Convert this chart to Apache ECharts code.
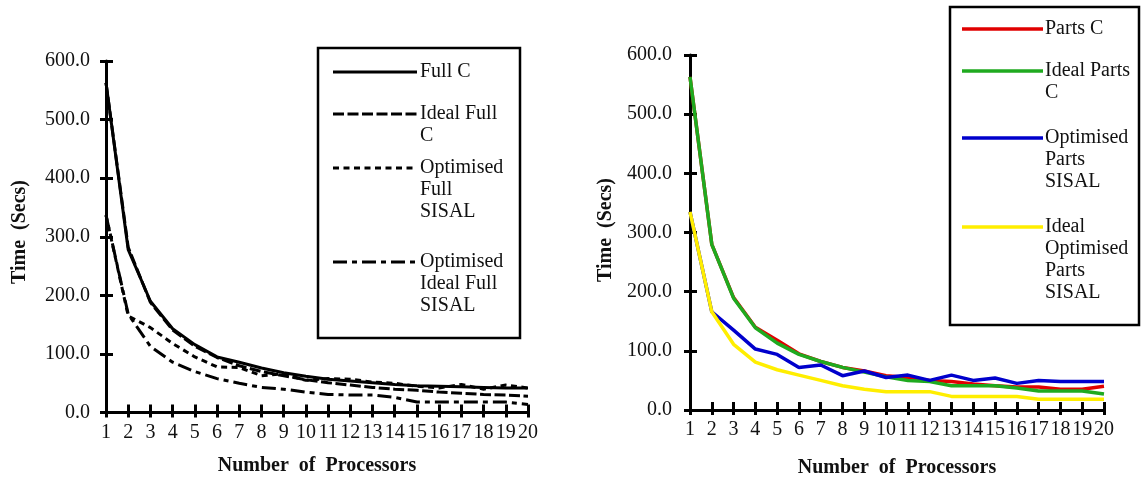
<!DOCTYPE html>
<html>
<head>
<meta charset="utf-8">
<script src="https://cdn.jsdelivr.net/npm/echarts@6/dist/echarts.min.js"></script>
<style>
html, body { margin: 0; padding: 0; background: #fff; }
#chart { width: 1141px; height: 481px; }
</style>
</head>
<body>
<div id="chart"></div>
<script>
// Processor counts along the x axis
const processors = ['1','2','3','4','5','6','7','8','9','10','11','12','13','14','15','16','17','18','19','20'];

// Left panel: full C and SISAL timings (seconds)
const fullC            = [563, 278, 190, 143, 116, 95, 86, 76, 68, 62, 57, 54, 51, 48, 46, 45, 44, 43, 42, 42];
const idealFullC       = [563, 282, 188, 141, 113, 94, 80, 70, 63, 56, 51, 47, 43, 40, 38, 35, 33, 31, 30, 28];
const optFullSisal     = [337, 165, 145, 118, 95, 78, 77, 63, 66, 55, 58, 57, 52, 50, 45, 42, 48, 40, 47, 42];
const optIdealFullSisal= [337, 168, 113, 86, 70, 58, 50, 43, 40, 35, 31, 30, 30, 26, 18, 18, 18, 18, 18, 14];

// Right panel: parts C and SISAL timings (seconds)
const partsC             = [563, 280, 190, 140, 118, 95, 82, 72, 66, 58, 55, 50, 48, 44, 41, 39, 39, 35, 35, 40];
const idealPartsC        = [563, 280, 189, 139, 113, 94, 82, 72, 64, 56, 50, 48, 41, 41, 41, 37, 32, 32, 32, 27];
const optPartsSisal      = [335, 166, 135, 103, 94, 72, 76, 58, 66, 55, 59, 50, 59, 50, 54, 45, 50, 48, 48, 48];
const idealOptPartsSisal = [335, 166, 111, 81, 68, 59, 50, 41, 35, 31, 31, 31, 23, 23, 23, 23, 18, 18, 18, 18];

// Series names as shown in the legends
const leftNames  = ['Full C', 'Ideal Full\nC', 'Optimised\nFull\nSISAL', 'Optimised\nIdeal Full\nSISAL'];
const rightNames = ['Parts C', 'Ideal Parts\nC', 'Optimised\nParts\nSISAL', 'Ideal\nOptimised\nParts\nSISAL'];

const FONT = '"Liberation Serif", "Times New Roman", serif';

const leftStyles = [
  { color: '#000', width: 3, type: 'solid' },
  { color: '#000', width: 3, type: [11, 3.5] },
  { color: '#000', width: 3, type: [6, 4.5] },
  { color: '#000', width: 3, type: [14, 5, 5, 5] }
];
const rightStyles = [
  { color: '#e00000', width: 3.5, type: 'solid' },
  { color: '#1faa1f', width: 3.5, type: 'solid' },
  { color: '#0000cc', width: 3.5, type: 'solid' },
  { color: '#ffee00', width: 3.5, type: 'solid' }
];

const leftData = [fullC, idealFullC, optFullSisal, optIdealFullSisal];
const rightData = [partsC, idealPartsC, optPartsSisal, idealOptPartsSisal];

const grids = [
  { left: 106, top: 61, width: 422, height: 351.6 },
  { left: 690, top: 55, width: 414, height: 355 }
];

function xAxes(gridIndex) {
  return [
    {
      type: 'category', gridIndex, data: processors, boundaryGap: false,
      axisLine: { lineStyle: { color: '#000', width: 3 } },
      axisTick: { show: true, length: 5, interval: 0, lineStyle: { color: '#000', width: 3 } },
      axisLabel: { interval: 0, margin: 10, color: '#111', fontFamily: FONT, fontSize: 20 },
      splitLine: { show: false }
    },
    {
      type: 'category', gridIndex, data: processors, boundaryGap: false, position: 'bottom',
      axisLine: { show: false },
      axisTick: { show: true, inside: true, length: 8, interval: 0, lineStyle: { color: '#000', width: 3 } },
      axisLabel: { show: false },
      splitLine: { show: false }
    }
  ];
}

function yAxes(gridIndex, margin) {
  return [
    {
      type: 'value', gridIndex, min: 0, max: 600, interval: 100,
      axisLine: { show: true, lineStyle: { color: '#000', width: 3 } },
      axisTick: { show: true, length: 6, lineStyle: { color: '#000', width: 3 } },
      axisLabel: { margin, color: '#111', fontFamily: FONT, fontSize: 20, formatter: v => v.toFixed(1) },
      splitLine: { show: false }
    },
    {
      type: 'value', gridIndex, min: 0, max: 600, interval: 100, position: 'left',
      axisLine: { show: false },
      axisTick: { show: true, inside: true, length: 7, lineStyle: { color: '#000', width: 3 } },
      axisLabel: { show: false },
      splitLine: { show: false }
    }
  ];
}

function makeSeries(names, data, styles, axisIndex) {
  return names.map((n, i) => ({
    name: n.replace(/\n/g, ' '),
    type: 'line',
    xAxisIndex: axisIndex,
    yAxisIndex: axisIndex,
    data: data[i],
    symbol: 'none',
    smooth: false,
    animation: false,
    lineStyle: { color: styles[i].color, width: styles[i].width, type: styles[i].type, cap: 'butt' },
    z: 3 + i
  }));
}

// Legend boxes drawn as graphics: a swatch line beside the first text line
function legendGraphics(box, names, styles, lineX1, lineX2, textX, rowYs) {
  const els = [{
    type: 'rect', shape: box, z: 50,
    style: { fill: '#fff', stroke: '#000', lineWidth: 2.5 }
  }];
  names.forEach((n, i) => {
    const s = styles[i];
    els.push({
      type: 'line', z: 51,
      shape: { x1: lineX1, y1: rowYs[i], x2: lineX2, y2: rowYs[i] },
      style: { stroke: s.color, lineWidth: s.width, lineDash: s.type === 'solid' ? null : s.type }
    });
    els.push({
      type: 'text', z: 51, x: textX, y: rowYs[i] - 11,
      style: { text: n, fill: '#111', fontFamily: FONT, fontSize: 20, lineHeight: 22, align: 'left', verticalAlign: 'top' }
    });
  });
  return els;
}

function titleText(text, x, y, rotated) {
  return {
    type: 'text', x, y, rotation: rotated ? Math.PI / 2 : 0, z: 60,
    style: { text, fill: '#111', fontFamily: FONT, fontSize: 20, fontWeight: 'bold', align: 'center', verticalAlign: 'middle' }
  };
}

const chart = echarts.init(document.getElementById('chart'), null, { renderer: 'canvas' });

chart.setOption({
  backgroundColor: '#fff',
  animation: false,
  grid: grids,
  xAxis: [...xAxes(0), ...xAxes(1)],
  yAxis: [...yAxes(0, 16), ...yAxes(1, 18)],
  series: [
    ...makeSeries(leftNames, leftData, leftStyles, 0),
    ...makeSeries(rightNames, rightData, rightStyles, 2)
  ],
  graphic: [
    ...legendGraphics({ x: 318, y: 48, width: 202, height: 290 }, leftNames, leftStyles, 333, 417, 420, [72, 114, 168, 262]),
    ...legendGraphics({ x: 950, y: 7, width: 189, height: 318 }, rightNames, rightStyles, 962, 1043, 1045, [29, 71, 138, 227]),
    titleText('Time  (Secs)', 20, 232, true),
    titleText('Time  (Secs)', 606, 230, true),
    titleText('Number  of  Processors', 317, 466, false),
    titleText('Number  of  Processors', 897, 468, false)
  ]
});
</script>
</body>
</html>
